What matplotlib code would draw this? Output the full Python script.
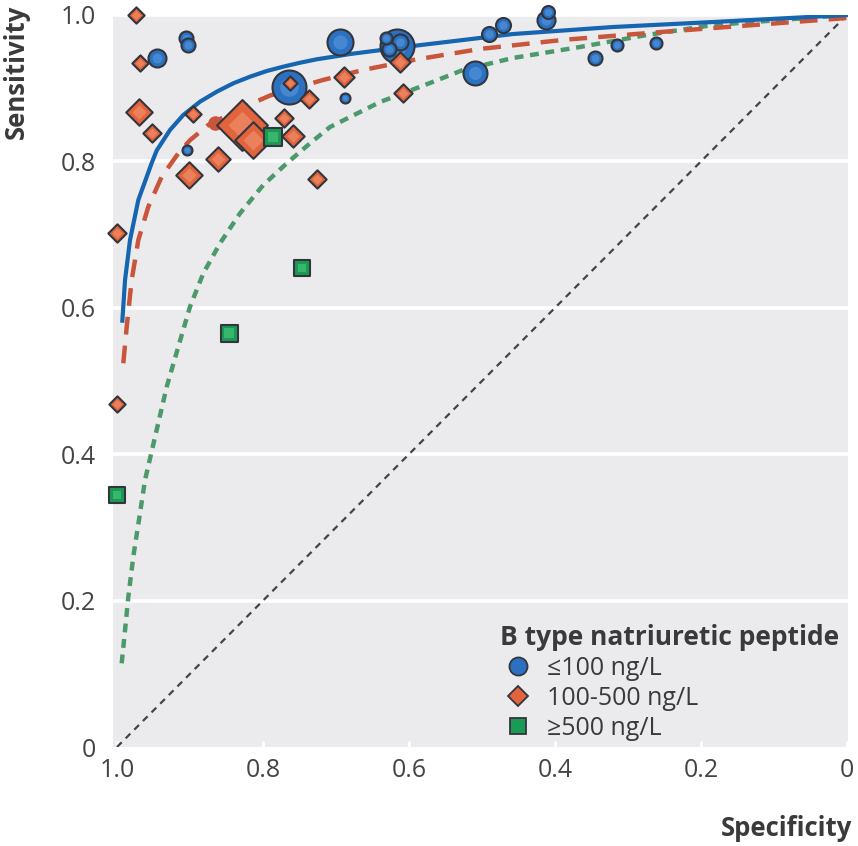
import matplotlib
matplotlib.use("Agg")
import matplotlib.pyplot as plt
from matplotlib.lines import Line2D
import numpy as np

plt.rcParams['font.family'] = ['Open Sans', 'DejaVu Sans']

# study estimates: specificity, sensitivity, relative study weight
low_spec = [0.905, 0.903, 0.945, 0.695, 0.764, 0.688, 0.904, 0.632, 0.616, 0.613, 0.628,
            0.510, 0.490, 0.471, 0.412, 0.410, 0.345, 0.315, 0.262]
low_sens = [0.969, 0.959, 0.941, 0.963, 0.902, 0.887, 0.816, 0.969, 0.958, 0.963, 0.953,
            0.921, 0.974, 0.986, 0.993, 1.004, 0.941, 0.959, 0.962]
low_w = [14, 14, 18, 26, 34, 10, 10, 12, 34, 16, 14, 24, 15, 15, 18, 13, 14, 12, 12]

mid_spec = [0.974, 0.968, 0.970, 0.952, 0.896, 0.901, 0.862, 0.829, 0.814, 0.763,
            0.737, 0.771, 0.759, 0.726, 0.689, 0.612, 0.608, 1.0, 1.0]
mid_sens = [1.000, 0.934, 0.868, 0.839, 0.865, 0.781, 0.803, 0.850, 0.829, 0.907,
            0.885, 0.859, 0.835, 0.776, 0.915, 0.936, 0.894, 0.702, 0.469]
mid_w = [16, 16, 26, 18, 16, 26, 24, 50, 36, 14, 18, 18, 22, 18, 20, 20, 18, 18, 16]

high_spec = [0.786, 0.747, 0.847, 1.0]
high_sens = [0.833, 0.654, 0.566, 0.344]
high_w = [18, 16, 17, 16]

# summary point for the 100-500 group
mid_summary = (0.866, 0.853)

# SROC curves
low_curve_spec = [0.9927, 0.989, 0.9822, 0.9708, 0.9525, 0.9456, 0.9274, 0.9092, 0.8863,
                  0.8634, 0.8407, 0.8178, 0.7949, 0.7722, 0.7493, 0.7264, 0.7037, 0.6808,
                  0.5945, 0.4575, 0.3205, 0.1836, 0.0]
low_curve_sens = [0.5824, 0.6380, 0.6926, 0.7473, 0.7978, 0.8150, 0.8429, 0.8634, 0.8816,
                  0.8952, 0.9067, 0.9157, 0.9235, 0.9294, 0.9348, 0.9395, 0.9430, 0.9467,
                  0.9577, 0.9740, 0.9836, 0.9904, 1.0]

mid_curve_spec = [0.9914, 0.9867, 0.9799, 0.9708, 0.9571, 0.9388, 0.9160, 0.9000, 0.8750,
                  0.8315, 0.8178, 0.7904, 0.7180, 0.6630, 0.5945, 0.5027, 0.3890, 0.2521, 0.0]
mid_curve_sens = [0.5242, 0.5742, 0.6380, 0.6926, 0.7381, 0.7791, 0.8111, 0.8290, 0.8497,
                  0.8715, 0.8780, 0.8900, 0.9112, 0.9249, 0.9385, 0.9536, 0.9660, 0.9770, 0.9959]

high_curve_spec = [0.9936, 0.9890, 0.9845, 0.9777, 0.9685, 0.9616, 0.9319, 0.9160, 0.9000,
                   0.8818, 0.8589, 0.8315, 0.7996, 0.7675, 0.7356, 0.7082, 0.6397, 0.5712,
                   0.5260, 0.4575, 0.3658, 0.2740, 0.1836, 0.0]
high_curve_sens = [0.1143, 0.1598, 0.2053, 0.2600, 0.3193, 0.3648, 0.4922, 0.5469, 0.6015,
                   0.6471, 0.6881, 0.7291, 0.7678, 0.7974, 0.8247, 0.8470, 0.8811, 0.9071,
                   0.9249, 0.9413, 0.9563, 0.9727, 0.9863, 1.0]

y_ticks = [0, 0.2, 0.4, 0.6, 0.8, 1.0]
y_tick_labels = ['0', '0.2', '0.4', '0.6', '0.8', '1.0']
x_ticks = [1.0, 0.8, 0.6, 0.4, 0.2, 0]
x_tick_labels = ['1.0', '0.8', '0.6', '0.4', '0.2', '0']
legend_labels = ['\u2264100 ng/L', '100-500 ng/L', '\u2265500 ng/L']

bg = '#ebebee'
txt = '#3a3a3a'
blue, blue_hi, blue_line = '#2c70c0', '#5b9be0', '#1565b0'
orange, orange_hi, red_line = '#e1643c', '#f29a78', '#c9553a'
green, green_hi, green_line = '#1a9a52', '#4fcf85', '#4c9a6b'
edge = '#33353d'

fig = plt.figure(figsize=(8.58, 8.46), dpi=100)
ax = fig.add_axes([113 / 858, 1 - 747 / 846, 735 / 858, 732 / 846])
ax.set_facecolor(bg)
ax.set_xlim(1.0055, -0.0014)
ax.set_ylim(0, 1)

for y in y_ticks[1:]:
    ax.axhline(y, color='white', lw=2.6, zorder=1)

ax.plot([1, 0], [0, 1], color='#444444', lw=1.6, ls=(0, (3, 2.5)), zorder=2)
ax.plot(high_curve_spec, high_curve_sens, color=green_line, lw=3.2, ls=(0, (2, 1.5)),
        zorder=2, dash_joinstyle='round')
ax.plot(mid_curve_spec, mid_curve_sens, color=red_line, lw=3.2, ls=(0, (4, 2.5)),
        zorder=2, dash_joinstyle='round')
ax.plot(low_curve_spec, low_curve_sens, color=blue_line, lw=3.0, zorder=2,
        solid_joinstyle='round')


def draw_group(spec, sens, w, marker, face, hi, scale, z):
    order = np.argsort(w)[::-1]
    spec = np.array(spec)[order]
    sens = np.array(sens)[order]
    w = np.array(w, dtype=float)[order]
    s = (0.72 * w * scale) ** 2
    for i in range(len(w)):
        ax.scatter(spec[i], sens[i], s=s[i], marker=marker, c=face, edgecolors=edge,
                   linewidths=1.5, zorder=z + i * 0.01, clip_on=False)
        ax.scatter(spec[i], sens[i], s=s[i] * 0.3, marker=marker, c=hi, alpha=0.55,
                   linewidths=0, zorder=z + i * 0.01 + 0.005, clip_on=False)


draw_group(low_spec, low_sens, low_w, 'o', blue, blue_hi, 1.0, 3)
draw_group(mid_spec, mid_sens, mid_w, 'D', orange, orange_hi, 0.72, 4)
draw_group(high_spec, high_sens, high_w, 's', green, green_hi, 1.0, 5)
ax.scatter([mid_summary[0]], [mid_summary[1]], s=110, c=red_line, linewidths=0, zorder=3.9)

for sp in ax.spines.values():
    sp.set_visible(False)
ax.set_yticks(y_ticks)
ax.set_yticklabels(y_tick_labels)
ax.set_xticks(x_ticks)
ax.set_xticklabels(x_tick_labels)
ax.tick_params(axis='y', length=0, pad=12, labelsize=18, labelcolor='#444444')
ax.tick_params(axis='x', direction='in', length=4, width=2, color='white', pad=8,
               labelsize=18, labelcolor='#444444')

fig.text(16 / 858, 1 - 72 / 846, 'Sensitivity', rotation=90, ha='center', va='center',
         fontsize=18.5, fontweight='bold', color=txt)
fig.text(787 / 858, 1 - 828 / 846, 'Specificity', ha='center', va='center',
         fontsize=18.5, fontweight='bold', color=txt)

handles = [
    Line2D([], [], ls='', marker='o', ms=13, mfc=blue, mec=edge, mew=1.3),
    Line2D([], [], ls='', marker='D', ms=10.5, mfc=orange, mec=edge, mew=1.3),
    Line2D([], [], ls='', marker='s', ms=11.5, mfc=green, mec=edge, mew=1.3),
]
leg = ax.legend(handles, legend_labels, title='B type natriuretic peptide', loc='lower left',
                bbox_to_anchor=(0.527, 0.008), frameon=False, fontsize=18,
                title_fontsize=19, handlelength=1.4, handletextpad=0.45,
                labelspacing=0.2, alignment='left', borderpad=0, borderaxespad=0)
leg.get_title().set_fontweight('bold')
leg.get_title().set_color(txt)
for t in leg.get_texts():
    t.set_color(txt)

fig.savefig('out.png', dpi=100)
